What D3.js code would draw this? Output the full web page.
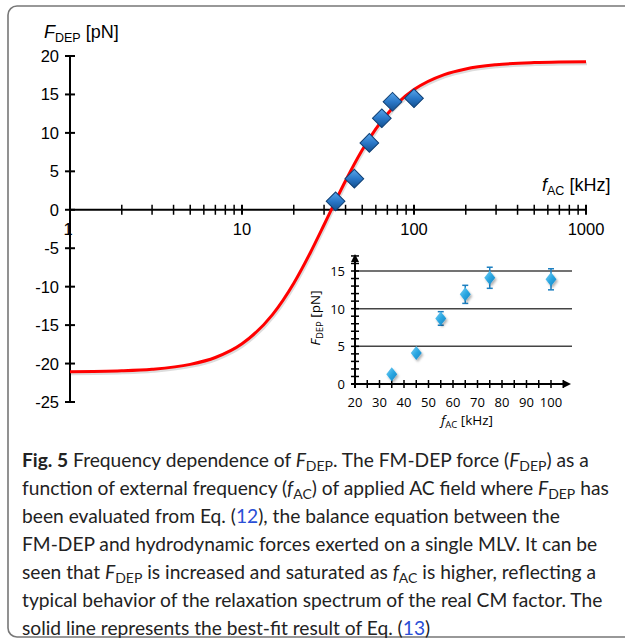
<!DOCTYPE html>
<html>
<head>
<meta charset="utf-8">
<script src="https://cdn.jsdelivr.net/npm/d3@7"></script>
<style>
  body { margin: 0; background: #fff; }
  svg { display: block; }
  .arial { font-family: Arial, "Liberation Sans", Helvetica, sans-serif; }
</style>
</head>
<body>
<svg id="fig" width="625" height="639"></svg>
<script>
// fitted curve (kHz, pN)
var fitFreq  = [1, 2, 3, 5, 7, 10, 15, 20, 25, 30, 35, 40, 50, 60, 70, 80, 100, 150, 200, 300, 500, 700, 1000];
var fitForce = [-21.06, -20.94, -20.74, -20.11, -19.21, -17.43, -13.67, -9.55, -5.55, -1.95, 1.16, 3.77, 7.77, 10.53, 12.46, 13.85, 15.63, 17.58, 18.32, 18.86, 19.14, 19.22, 19.26];

// measured points, main plot
var mainFreq  = [35, 45, 55, 65, 75, 100];
var mainForce = [1.1, 4.05, 8.7, 11.9, 14.05, 14.5];

// inset points with error bars
var insetFreq  = [35, 45, 55, 65, 75, 100];
var insetForce = [1.3, 4.1, 8.7, 11.9, 14.1, 13.9];
var insetErr   = [0, 0, 0.9, 1.2, 1.4, 1.4];

var mainYTicks = [20, 15, 10, 5, 0, -5, -10, -15, -20, -25];
var mainXLabels = [1, 10, 100, 1000];
var insetXLabels = [20, 30, 40, 50, 60, 70, 80, 90, 100];
var insetYLabels = [0, 5, 10, 15];

var svg = d3.select('#fig');

// frame
svg.append('rect')
  .attr('x', 8).attr('y', 6)
  .attr('width', 640).attr('height', 631)
  .attr('rx', 9)
  .attr('fill', 'none')
  .attr('stroke', '#777')
  .attr('stroke-width', 1.6);

var defs = svg.append('defs');
var g1 = defs.append('linearGradient').attr('id', 'dmain')
  .attr('x1', '0%').attr('y1', '0%').attr('x2', '100%').attr('y2', '100%');
g1.append('stop').attr('offset', '0%').attr('stop-color', '#5aa6ea');
g1.append('stop').attr('offset', '50%').attr('stop-color', '#2a78c8');
g1.append('stop').attr('offset', '100%').attr('stop-color', '#134f8e');
var g2 = defs.append('linearGradient').attr('id', 'dinset')
  .attr('x1', '0%').attr('y1', '0%').attr('x2', '100%').attr('y2', '100%');
g2.append('stop').attr('offset', '0%').attr('stop-color', '#7fd4f6');
g2.append('stop').attr('offset', '50%').attr('stop-color', '#2aa7e2');
g2.append('stop').attr('offset', '100%').attr('stop-color', '#1582c0');
var sh = defs.append('filter').attr('id', 'shadow').attr('x', '-50%').attr('y', '-50%').attr('width', '200%').attr('height', '200%');
sh.append('feDropShadow').attr('dx', 1.5).attr('dy', 2).attr('stdDeviation', 1.2).attr('flood-color', '#000').attr('flood-opacity', 0.3);

// ---------- main plot ----------
var x = d3.scaleLog().domain([1, 1000]).range([70, 586]);
var y = d3.scaleLinear().domain([-25, 20]).range([402, 56]);

var main = svg.append('g').attr('class', 'arial');

// y axis
main.append('line').attr('x1', x(1)).attr('x2', x(1)).attr('y1', y(20)).attr('y2', y(-25))
  .attr('stroke', '#000').attr('stroke-width', 2);
main.append('g').selectAll('line').data(mainYTicks).enter().append('line')
  .attr('x1', x(1) - 5).attr('x2', x(1) + 5)
  .attr('y1', d => y(d)).attr('y2', d => y(d))
  .attr('stroke', '#000').attr('stroke-width', 2);
main.append('g').selectAll('text').data(mainYTicks).enter().append('text')
  .attr('x', 59).attr('y', d => y(d) + 6)
  .attr('text-anchor', 'end')
  .attr('font-size', 16.5)
  .text(d => d);

// x axis at zero
var xTicks = [];
[1, 10, 100].forEach(function(dec) { for (var k = 1; k <= 9; k++) xTicks.push(dec * k); });
xTicks.push(1000);
main.append('line').attr('x1', x(1)).attr('x2', x(1000)).attr('y1', y(0)).attr('y2', y(0))
  .attr('stroke', '#000').attr('stroke-width', 2);
main.append('g').selectAll('line').data(xTicks).enter().append('line')
  .attr('x1', d => x(d)).attr('x2', d => x(d))
  .attr('y1', y(0) - 5).attr('y2', y(0) + 5)
  .attr('stroke', '#000').attr('stroke-width', d => (d === 10 || d === 100 || d === 1000) ? 2 : 1.5);
main.append('g').selectAll('text').data(mainXLabels).enter().append('text')
  .attr('x', d => x(d) - (d === 1 ? 2 : 0)).attr('y', y(0) + 25)
  .attr('text-anchor', 'middle')
  .attr('font-size', 16.5)
  .text(d => d);

// axis titles
var yt = main.append('text').attr('x', 44).attr('y', 38)
  .attr('font-size', 18);
yt.append('tspan').attr('font-style', 'italic').text('F');
yt.append('tspan').attr('font-size', 12.5).attr('dy', 4).text('DEP');
yt.append('tspan').attr('dy', -4).text(' [pN]');

var xt = main.append('text').attr('x', 542).attr('y', 191)
  .attr('font-size', 18);
xt.append('tspan').attr('font-style', 'italic').text('f');
xt.append('tspan').attr('font-size', 12.5).attr('dy', 4).text('AC');
xt.append('tspan').attr('dy', -4).text(' [kHz]');

// fit curve
var fit = fitFreq.map((f, i) => [f, fitForce[i]]);
var line = d3.line().x(d => x(d[0])).y(d => y(d[1])).curve(d3.curveMonotoneX);
main.append('path').datum(fit).attr('d', line)
  .attr('fill', 'none').attr('stroke', '#bbb').attr('stroke-width', 3).attr('opacity', 0.5)
  .attr('transform', 'translate(1,2)');
main.append('path').datum(fit).attr('d', line)
  .attr('fill', 'none').attr('stroke', '#ff0000').attr('stroke-width', 3);

// diamonds
var diamond = d3.symbol().type(d3.symbolSquare).size(175);
main.append('g').selectAll('path').data(mainFreq.map((f, i) => [f, mainForce[i]])).enter().append('path')
  .attr('d', diamond)
  .attr('transform', d => 'translate(' + x(d[0]) + ',' + y(d[1]) + ') rotate(45)')
  .attr('fill', 'url(#dmain)')
  .attr('stroke', '#0e3f74').attr('stroke-width', 1);

// ---------- inset ----------
var ix = d3.scaleLinear().domain([20, 100]).range([355, 551]);
var iy = d3.scaleLinear().domain([0, 15]).range([384, 271]);
var ifont = '"Open Sans", "Noto Sans", sans-serif';

// grid lines
svg.append('g').selectAll('line').data([5, 10, 15]).enter().append('line')
  .attr('x1', ix(20)).attr('x2', 572)
  .attr('y1', d => iy(d)).attr('y2', d => iy(d))
  .attr('stroke', '#444').attr('stroke-width', 1.5);

// y axis with arrow
svg.append('line').attr('x1', ix(20)).attr('x2', ix(20)).attr('y1', iy(0) + 4).attr('y2', 258)
  .attr('stroke', '#000').attr('stroke-width', 2);
svg.append('path').attr('d', 'M' + ix(20) + ',254 l-4,8 l8,0 z').attr('fill', '#000');
svg.append('g').selectAll('line').data(d3.range(0, 18)).enter().append('line')
  .attr('x1', ix(20) - 4).attr('x2', ix(20) + 4)
  .attr('y1', d => iy(d)).attr('y2', d => iy(d))
  .attr('stroke', '#000').attr('stroke-width', 1.5);
svg.append('g').selectAll('text').data(insetYLabels).enter().append('text')
  .attr('x', ix(20) - 10).attr('y', d => iy(d) + 5)
  .attr('text-anchor', 'end')
  .attr('font-family', ifont).attr('font-size', 13)
  .text(d => d);

// x axis with arrow
svg.append('line').attr('x1', ix(20) - 4).attr('x2', 566).attr('y1', iy(0)).attr('y2', iy(0))
  .attr('stroke', '#000').attr('stroke-width', 2);
svg.append('path').attr('d', 'M571,' + iy(0) + ' l-8,-4 l0,8 z').attr('fill', '#000');
svg.append('g').selectAll('line').data(d3.range(20, 106, 5)).enter().append('line')
  .attr('x1', d => ix(d)).attr('x2', d => ix(d))
  .attr('y1', iy(0) - 4).attr('y2', iy(0) + 4)
  .attr('stroke', '#000').attr('stroke-width', 1.5);
svg.append('g').selectAll('text').data(insetXLabels).enter().append('text')
  .attr('x', d => ix(d)).attr('y', iy(0) + 23)
  .attr('text-anchor', 'middle')
  .attr('font-family', ifont).attr('font-size', 13)
  .text(d => d);

// inset titles
var ixt = svg.append('text').attr('x', 467).attr('y', 425).attr('text-anchor', 'middle')
  .attr('font-family', ifont).attr('font-size', 13.5);
ixt.append('tspan').attr('font-style', 'italic').text('f');
ixt.append('tspan').attr('font-size', 9.5).attr('dy', 3).text('AC');
ixt.append('tspan').attr('dy', -3).text(' [kHz]');

var iyt = svg.append('text').attr('transform', 'translate(320,318) rotate(-90)').attr('text-anchor', 'middle')
  .attr('font-family', ifont).attr('font-size', 13.5);
iyt.append('tspan').attr('font-style', 'italic').text('F');
iyt.append('tspan').attr('font-size', 9.5).attr('dy', 3).text('DEP');
iyt.append('tspan').attr('dy', -3).text(' [pN]');

// error bars
var ipts = insetFreq.map((f, i) => ({f: f, v: insetForce[i], e: insetErr[i]}));
var eb = svg.append('g').selectAll('g').data(ipts.filter(d => d.e > 0)).enter().append('g')
  .attr('stroke', '#1d7fc0').attr('stroke-width', 1.5);
eb.append('line').attr('x1', d => ix(d.f)).attr('x2', d => ix(d.f))
  .attr('y1', d => iy(d.v - d.e)).attr('y2', d => iy(d.v + d.e));
eb.append('line').attr('x1', d => ix(d.f) - 3).attr('x2', d => ix(d.f) + 3)
  .attr('y1', d => iy(d.v - d.e)).attr('y2', d => iy(d.v - d.e));
eb.append('line').attr('x1', d => ix(d.f) - 3).attr('x2', d => ix(d.f) + 3)
  .attr('y1', d => iy(d.v + d.e)).attr('y2', d => iy(d.v + d.e));

svg.append('g').selectAll('path').data(ipts).enter().append('path')
  .attr('d', 'M0,-7 L5.5,0 L0,7 L-5.5,0 Z')
  .attr('transform', d => 'translate(' + ix(d.f) + ',' + iy(d.v) + ')')
  .attr('fill', 'url(#dinset)')
  .attr('filter', 'url(#shadow)');

// ---------- caption ----------
var cfont = 'Lato, "Open Sans", sans-serif';
var capLines = [
  [['b', 'Fig. 5'], ['n', ' Frequency dependence of '], ['i', 'F'], ['s', 'DEP'], ['n', '. The FM-DEP force ('], ['i', 'F'], ['s', 'DEP'], ['n', ') as a']],
  [['n', 'function of external frequency ('], ['i', 'f'], ['s', 'AC'], ['n', ') of applied AC field where '], ['i', 'F'], ['s', 'DEP'], ['n', ' has']],
  [['n', 'been evaluated from Eq. ('], ['l', '12'], ['n', '), the balance equation between the']],
  [['n', 'FM-DEP and hydrodynamic forces exerted on a single MLV. It can be']],
  [['n', 'seen that '], ['i', 'F'], ['s', 'DEP'], ['n', ' is increased and saturated as '], ['i', 'f'], ['s', 'AC'], ['n', ' is higher, reflecting a']],
  [['n', 'typical behavior of the relaxation spectrum of the real CM factor. The']],
  [['n', 'solid line represents the best-fit result of Eq. ('], ['l', '13'], ['n', ')']]
];

capLines.forEach(function(parts, li) {
  var t = svg.append('text')
    .attr('x', 22).attr('y', 467 + li * 28)
    .attr('font-family', cfont).attr('font-size', 19.2)
    .attr('fill', '#222');
  var sub = false;
  parts.forEach(function(p) {
    var ts = t.append('tspan').text(p[1]);
    if (p[0] === 'b') ts.attr('font-weight', 'bold');
    if (p[0] === 'i') ts.attr('font-style', 'italic');
    if (p[0] === 'l') ts.attr('fill', '#2a4fd6');
    if (p[0] === 's') { ts.attr('font-size', 14).attr('dy', 4); sub = true; }
    else if (sub) { ts.attr('dy', -4); sub = false; }
  });
});
</script>
</body>
</html>
